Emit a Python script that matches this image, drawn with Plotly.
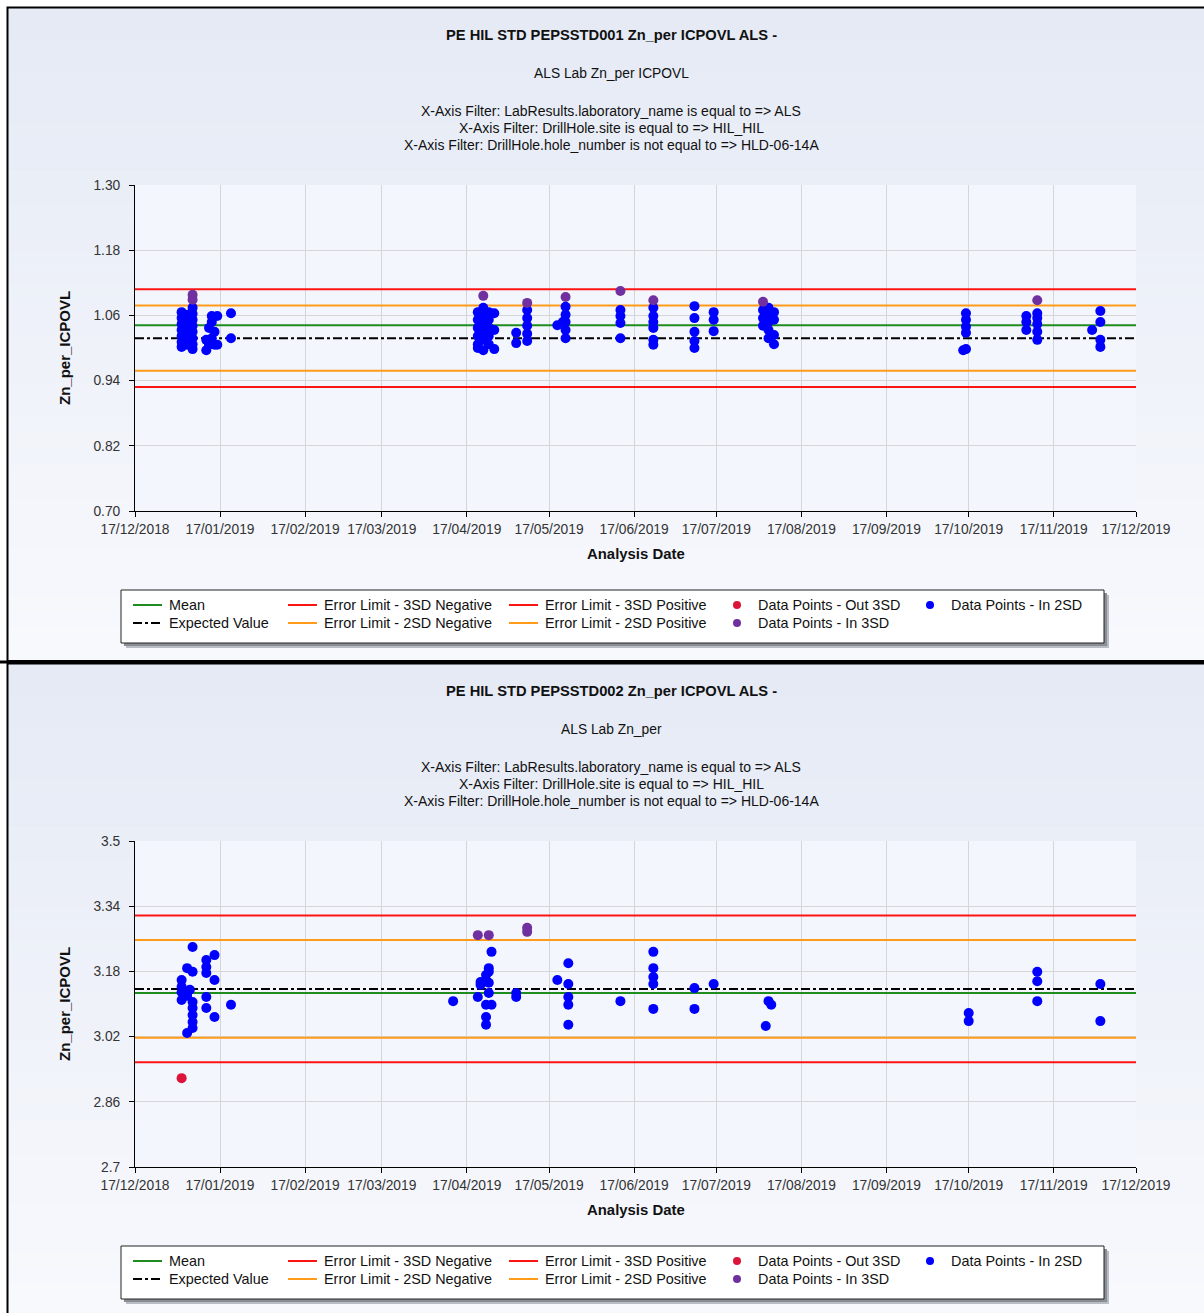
import plotly.graph_objects as go

# ---------------- page geometry (pixels) ----------------
W, H = 1204, 1313
PANEL_SHIFT = 656          # vertical offset of the second report panel
FONT = "Liberation Sans, Arial, sans-serif"

# ---------------- shared x axis ----------------
x_start = "2018-12-17"
x_end = "2019-12-17"
month_ticks = ["2018-12-17", "2019-01-17", "2019-02-17", "2019-03-17", "2019-04-17",
               "2019-05-17", "2019-06-17", "2019-07-17", "2019-08-17", "2019-09-17",
               "2019-10-17", "2019-11-17", "2019-12-17"]

filters = [
    "X-Axis Filter: LabResults.laboratory_name is equal to => ALS",
    "X-Axis Filter: DrillHole.site is equal to => HIL_HIL",
    "X-Axis Filter: DrillHole.hole_number is not equal to => HLD-06-14A",
]

# ---------------- PEPSSTD001 ----------------
std1_title = "PE HIL STD PEPSSTD001 Zn_per ICPOVL ALS -"
std1_subtitle = "ALS Lab Zn_per ICPOVL"
std1_yticks = [0.70, 0.82, 0.94, 1.06, 1.18, 1.30]
std1_yticklabels = ["0.70", "0.82", "0.94", "1.06", "1.18", "1.30"]
std1_mean = 1.042
std1_expected = 1.018
std1_neg3sd = 0.928
std1_neg2sd = 0.958
std1_pos2sd = 1.078
std1_pos3sd = 1.108

std1_in2sd = [
    ("2019-01-03", [1.066, 1.055, 1.044, 1.033, 1.022, 1.011, 1.002]),
    ("2019-01-05", [1.061, 1.048, 1.037, 1.024, 1.015, 1.006]),
    ("2019-01-07", [1.074, 1.063, 1.052, 1.041, 1.030, 1.018, 1.007, 0.998]),
    ("2019-01-12", [1.015, 0.996]),
    ("2019-01-13", [1.037, 1.006]),
    ("2019-01-14", [1.059, 1.048, 1.018]),
    ("2019-01-15", [1.030, 1.006]),
    ("2019-01-16", [1.059, 1.006]),
    ("2019-01-21", [1.064, 1.018]),
    ("2019-04-21", [1.066, 1.052, 1.037, 1.022, 1.007, 1.000]),
    ("2019-04-23", [1.074, 1.059, 1.044, 1.030, 1.015, 0.996]),
    ("2019-04-25", [1.066, 1.052, 1.037, 1.022, 1.007]),
    ("2019-04-27", [1.064, 1.033, 0.998]),
    ("2019-05-05", [1.028, 1.009]),
    ("2019-05-09", [1.070, 1.055, 1.041, 1.026, 1.013]),
    ("2019-05-20", [1.042]),
    ("2019-05-22", [1.048]),
    ("2019-05-23", [1.076, 1.061, 1.048, 1.033, 1.018]),
    ("2019-06-12", [1.070, 1.059, 1.046, 1.018]),
    ("2019-06-24", [1.074, 1.059, 1.048, 1.037, 1.015, 1.006]),
    ("2019-07-09", [1.077, 1.055, 1.030, 1.013, 1.000]),
    ("2019-07-16", [1.066, 1.052, 1.031]),
    ("2019-08-03", [1.070, 1.055, 1.041]),
    ("2019-08-05", [1.074, 1.063, 1.048, 1.033, 1.018]),
    ("2019-08-07", [1.066, 1.052, 1.024, 1.007]),
    ("2019-10-15", [0.996]),
    ("2019-10-16", [1.064, 1.052, 1.039, 1.028, 0.998]),
    ("2019-11-07", [1.059, 1.048, 1.033]),
    ("2019-11-11", [1.064, 1.055, 1.044, 1.030, 1.015]),
    ("2019-12-01", [1.033]),
    ("2019-12-04", [1.068, 1.048, 1.015, 1.002]),
]
std1_in3sd = [
    ("2019-01-07", [1.098, 1.089]),
    ("2019-04-23", [1.096]),
    ("2019-05-09", [1.083]),
    ("2019-05-23", [1.094]),
    ("2019-06-12", [1.105]),
    ("2019-06-24", [1.088]),
    ("2019-08-03", [1.085]),
    ("2019-11-11", [1.088]),
]
std1_out3sd = []

# ---------------- PEPSSTD002 ----------------
std2_title = "PE HIL STD PEPSSTD002 Zn_per ICPOVL ALS -"
std2_subtitle = "ALS Lab Zn_per"
std2_yticks = [2.70, 2.86, 3.02, 3.18, 3.34, 3.50]
std2_yticklabels = ["2.7", "2.86", "3.02", "3.18", "3.34", "3.5"]
std2_mean = 3.127
std2_expected = 3.137
std2_neg3sd = 2.957
std2_neg2sd = 3.017
std2_pos2sd = 3.257
std2_pos3sd = 3.317

std2_in2sd = [
    ("2019-01-03", [3.159, 3.142, 3.129, 3.110]),
    ("2019-01-05", [3.188, 3.029, 3.120]),
    ("2019-01-06", [3.135]),
    ("2019-01-07", [3.240, 3.179, 3.105, 3.090, 3.073, 3.056, 3.041]),
    ("2019-01-12", [3.208, 3.191, 3.176, 3.117, 3.090]),
    ("2019-01-15", [3.220, 3.159, 3.068]),
    ("2019-01-21", [3.098]),
    ("2019-04-12", [3.107]),
    ("2019-04-21", [3.117]),
    ("2019-04-22", [3.154, 3.147]),
    ("2019-04-24", [3.171, 3.098, 3.068, 3.049]),
    ("2019-04-25", [3.188, 3.179, 3.152, 3.127]),
    ("2019-04-26", [3.228, 3.098]),
    ("2019-05-05", [3.127, 3.117]),
    ("2019-05-20", [3.159]),
    ("2019-05-24", [3.200, 3.149, 3.117, 3.098, 3.049]),
    ("2019-06-12", [3.107]),
    ("2019-06-24", [3.228, 3.188, 3.166, 3.149, 3.088]),
    ("2019-07-09", [3.139, 3.088]),
    ("2019-07-16", [3.149]),
    ("2019-08-04", [3.046]),
    ("2019-08-05", [3.107]),
    ("2019-08-06", [3.098]),
    ("2019-10-17", [3.078, 3.058]),
    ("2019-11-11", [3.179, 3.156, 3.107]),
    ("2019-12-04", [3.149, 3.058]),
]
std2_in3sd = [
    ("2019-04-21", [3.269]),
    ("2019-04-25", [3.269]),
    ("2019-05-09", [3.287, 3.277]),
]
std2_out3sd = [
    ("2019-01-03", [2.918]),
]

# ---------------- styling ----------------
C_MEAN = "#1e8c1e"
C_EXPECTED = "#000000"
C_3SD = "#ff1414"
C_2SD = "#ff9a1a"
C_OUT3 = "#dc143c"
C_IN3 = "#7030a0"
C_IN2 = "#0000ff"


def px(x):
    return x / W


def py(y):
    return 1 - y / H


def flatten(groups):
    xs, ys = [], []
    for d, vals in groups:
        for v in vals:
            xs.append(d)
            ys.append(v)
    return xs, ys


fig = go.Figure()
shapes = []
annotations = []


def add_panel(idx, dy, title, subtitle, yticks, yticklabels,
              mean, expected, n3, n2, p2, p3, in2, in3, out3):
    xa = "x" if idx == 1 else "x2"
    ya = "y" if idx == 1 else "y2"

    # control lines across the full date range
    lines = [
        (n3, C_3SD, "solid"), (p3, C_3SD, "solid"),
        (n2, C_2SD, "solid"), (p2, C_2SD, "solid"),
        (mean, C_MEAN, "solid"), (expected, C_EXPECTED, "dashdot"),
    ]
    for val, col, dash in lines:
        fig.add_trace(go.Scatter(
            x=[x_start, x_end], y=[val, val], mode="lines",
            line=dict(color=col, width=2, dash=dash),
            xaxis=xa, yaxis=ya, showlegend=False, hoverinfo="skip"))

    for groups, col in [(in2, C_IN2), (in3, C_IN3), (out3, C_OUT3)]:
        xs, ys = flatten(groups)
        if not xs:
            continue
        fig.add_trace(go.Scatter(
            x=xs, y=ys, mode="markers",
            marker=dict(color=col, size=10, line=dict(width=0)),
            xaxis=xa, yaxis=ya, showlegend=False, cliponaxis=False))

    # axes
    axis_common = dict(
        showline=True, linecolor="#000000", linewidth=1,
        ticks="outside", ticklen=5, tickcolor="#000000",
        showgrid=True, gridcolor="#d6d6d6", gridwidth=1,
        zeroline=False, automargin=False,
        tickfont=dict(family=FONT, size=13.8, color="#333333"),
    )
    xkey = "xaxis" if idx == 1 else "xaxis2"
    ykey = "yaxis" if idx == 1 else "yaxis2"
    fig.update_layout(**{
        xkey: dict(axis_common, type="date", range=[x_start, x_end],
                   tickvals=month_ticks, tickformat="%d/%m/%Y",
                   domain=[px(135), px(1136)], anchor=ya),
        ykey: dict(axis_common, range=[yticks[0], yticks[-1]],
                   tickvals=yticks, ticktext=yticklabels,
                   ticklabelstandoff=6,
                   domain=[py(511 + dy), py(185 + dy)], anchor=xa),
    })

    # panel background: soft vertical gradient
    top, bottom = 8 + dy, 661 + dy
    c0, c1 = (229, 234, 245), (248, 249, 253)
    n = 40
    for i in range(n):
        t = i / (n - 1)
        col = "rgb(%d,%d,%d)" % tuple(round(a + (b - a) * t) for a, b in zip(c0, c1))
        y0 = top + (bottom - top) * i / n
        y1 = top + (bottom - top) * (i + 1) / n + 0.6
        shapes.append(dict(type="rect", xref="paper", yref="paper", layer="below",
                           x0=px(8), x1=1.02, y0=py(y0), y1=py(y1),
                           fillcolor=col, line=dict(width=0)))
    # plot area fill
    shapes.append(dict(type="rect", xref="paper", yref="paper", layer="below",
                       x0=px(135), x1=px(1136), y0=py(185 + dy), y1=py(511 + dy),
                       fillcolor="#f3f6fc", line=dict(width=0)))

    # titles
    title_lines = [(title, 35, True, 14.7), (subtitle, 73, False, 13.8)]
    for k, f in enumerate(filters):
        title_lines.append((f, 111 + 17 * k, False, 14))
    for text, y, bold, size in title_lines:
        annotations.append(dict(
            text="<b>%s</b>" % text if bold else text,
            x=px(611), y=py(y + dy), xref="paper", yref="paper",
            xanchor="center", yanchor="middle", showarrow=False,
            font=dict(family=FONT, size=size, color="#111111")))

    # axis titles
    annotations.append(dict(text="<b>Analysis Date</b>", x=px(636), y=py(554 + dy),
                            xref="paper", yref="paper", xanchor="center", yanchor="middle",
                            showarrow=False, font=dict(family=FONT, size=14.9, color="#111111")))
    annotations.append(dict(text="<b>Zn_per_ICPOVL</b>", x=px(64), y=py(348 + dy),
                            xref="paper", yref="paper", xanchor="center", yanchor="middle",
                            textangle=-90, showarrow=False,
                            font=dict(family=FONT, size=15, color="#111111")))

    # legend box with drop shadow
    lx0, lx1, ly0, ly1 = 121, 1104, 590 + dy, 643 + dy
    shapes.append(dict(type="rect", xref="paper", yref="paper", layer="below",
                       x0=px(lx0 + 5), x1=px(lx1 + 5), y0=py(ly0 + 5), y1=py(ly1 + 5),
                       fillcolor="#b8bcc4", line=dict(width=0)))
    shapes.append(dict(type="rect", xref="paper", yref="paper", layer="below",
                       x0=px(lx0 + 3), x1=px(lx1 + 3), y0=py(ly0 + 3), y1=py(ly1 + 3),
                       fillcolor="#8a8d93", line=dict(width=0)))
    shapes.append(dict(type="rect", xref="paper", yref="paper", layer="below",
                       x0=px(lx0), x1=px(lx1), y0=py(ly0), y1=py(ly1),
                       fillcolor="#ffffff", line=dict(color="#222222", width=1)))

    rows = [605 + dy, 623 + dy]
    entries = [
        ("Mean", "line", C_MEAN, "solid", 133, 0),
        ("Expected Value", "line", C_EXPECTED, "dashdot", 133, 1),
        ("Error Limit - 3SD Negative", "line", C_3SD, "solid", 288, 0),
        ("Error Limit - 2SD Negative", "line", C_2SD, "solid", 288, 1),
        ("Error Limit - 3SD Positive", "line", C_3SD, "solid", 509, 0),
        ("Error Limit - 2SD Positive", "line", C_2SD, "solid", 509, 1),
        ("Data Points - Out 3SD", "dot", C_OUT3, None, 737, 0),
        ("Data Points - In 3SD", "dot", C_IN3, None, 737, 1),
        ("Data Points - In 2SD", "dot", C_IN2, None, 930, 0),
    ]
    for name, kind, col, dash, x, r in entries:
        y = rows[r]
        if kind == "line":
            shapes.append(dict(type="line", xref="paper", yref="paper", layer="below",
                               x0=px(x), x1=px(x + 29), y0=py(y), y1=py(y),
                               line=dict(color=col, width=2, dash=dash)))
            tx = x + 34
        else:
            shapes.append(dict(type="circle", xref="paper", yref="paper", layer="below",
                               x0=px(x - 4), x1=px(x + 4), y0=py(y - 4), y1=py(y + 4),
                               fillcolor=col, line=dict(width=0)))
            tx = x + 19
        annotations.append(dict(text=name, x=px(tx), y=py(y), xref="paper", yref="paper",
                                xanchor="left", yanchor="middle", showarrow=False,
                                font=dict(family=FONT, size=14.4, color="#111111")))

    # panel frame
    shapes.append(dict(type="rect", xref="paper", yref="paper", layer="above",
                       x0=px(7.5), x1=1.05, y0=py(7.5 + dy), y1=py(661 + dy),
                       fillcolor="rgba(0,0,0,0)", line=dict(color="#000000", width=2)))


add_panel(1, 0, std1_title, std1_subtitle, std1_yticks, std1_yticklabels,
          std1_mean, std1_expected, std1_neg3sd, std1_neg2sd, std1_pos2sd, std1_pos3sd,
          std1_in2sd, std1_in3sd, std1_out3sd)
add_panel(2, PANEL_SHIFT, std2_title, std2_subtitle, std2_yticks, std2_yticklabels,
          std2_mean, std2_expected, std2_neg3sd, std2_neg2sd, std2_pos2sd, std2_pos3sd,
          std2_in2sd, std2_in3sd, std2_out3sd)

# separator between the two report panels
shapes.append(dict(type="line", xref="paper", yref="paper", layer="above",
                   x0=0, x1=1, y0=py(662), y1=py(662),
                   line=dict(color="#000000", width=3)))

fig.update_layout(
    width=W, height=H,
    margin=dict(l=0, r=0, t=0, b=0, autoexpand=False),
    paper_bgcolor="#ffffff",
    plot_bgcolor="rgba(0,0,0,0)",
    showlegend=False,
    shapes=shapes,
    annotations=annotations,
    font=dict(family=FONT),
)

fig.write_html("out.html")
